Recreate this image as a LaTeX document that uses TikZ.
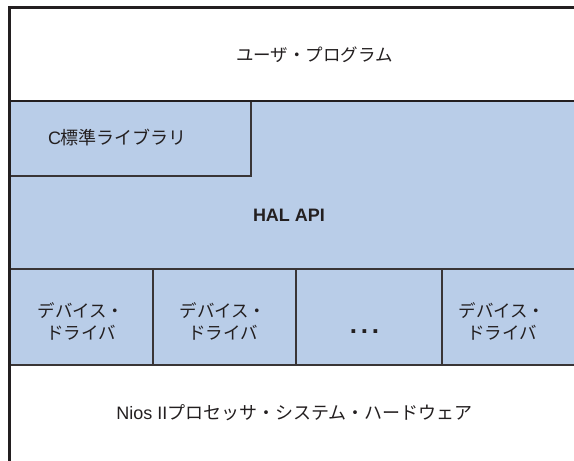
\documentclass[tikz,border=0pt]{standalone}
\usepackage{fontspec}
\setmainfont{Liberation Sans}
\newfontfamily\jp{Noto Sans CJK JP}
\definecolor{halblue}{RGB}{185,205,232}
\definecolor{ink}{RGB}{35,31,32}
\begin{document}
\begin{tikzpicture}[x=1pt,y=-1pt,
  txt/.style={text=ink,font=\fontsize{18}{22}\selectfont,inner sep=0pt,align=center},
  jtxt/.style={text=ink,font=\jp\fontsize{17.5}{22}\selectfont,inner sep=0pt,align=center},
  innerline/.style={draw=ink!90,line width=1.2pt},
  layerline/.style={draw=ink,line width=2pt},
  frameline/.style={draw=ink,line width=3pt}]
\useasboundingbox (0,0) rectangle (574,461);
% blue region
\fill[halblue] (9,101) rectangle (600,365);
% C library box
\draw[innerline] (9,176) -| (251,101);
% driver row
\draw[innerline] (9,269) -- (600,269);
\draw[innerline] (9,365) -- (600,365);
\draw[innerline] (153,269) -- (153,365);
\draw[innerline] (296,269) -- (296,365);
\draw[innerline] (442,269) -- (442,365);
% layer line
\draw[layerline] (9,101) -- (600,101);
% outer frame (cropped right and bottom)
\draw[frameline] (9,480) |- (600,7);
% texts
\node[jtxt] (user) at (314.5,55) {ユーザ・プログラム};
\node[txt] (clib) at (117.5,138) {C{\jp 標準ライブラリ}};
\node[txt,font=\bfseries\fontsize{18}{22}\selectfont] (hal) at (289,215) {HAL API};
\node[jtxt] (drv1) at (81,321) {デバイス・\\ドライバ};
\node[jtxt] (drv2) at (223,321) {デバイス・\\ドライバ};
\node[txt,font=\bfseries\fontsize{26}{28}\selectfont,anchor=base] (dots) at (364.5,333) {.\hspace{3.8pt}.\hspace{3.8pt}.};
\node[jtxt] (drv4) at (502,321) {デバイス・\\ドライバ};
\node[txt] (hw) at (294.5,413) {Nios II{\jp プロセッサ・システム・ハードウェア}};
\end{tikzpicture}
\end{document}
